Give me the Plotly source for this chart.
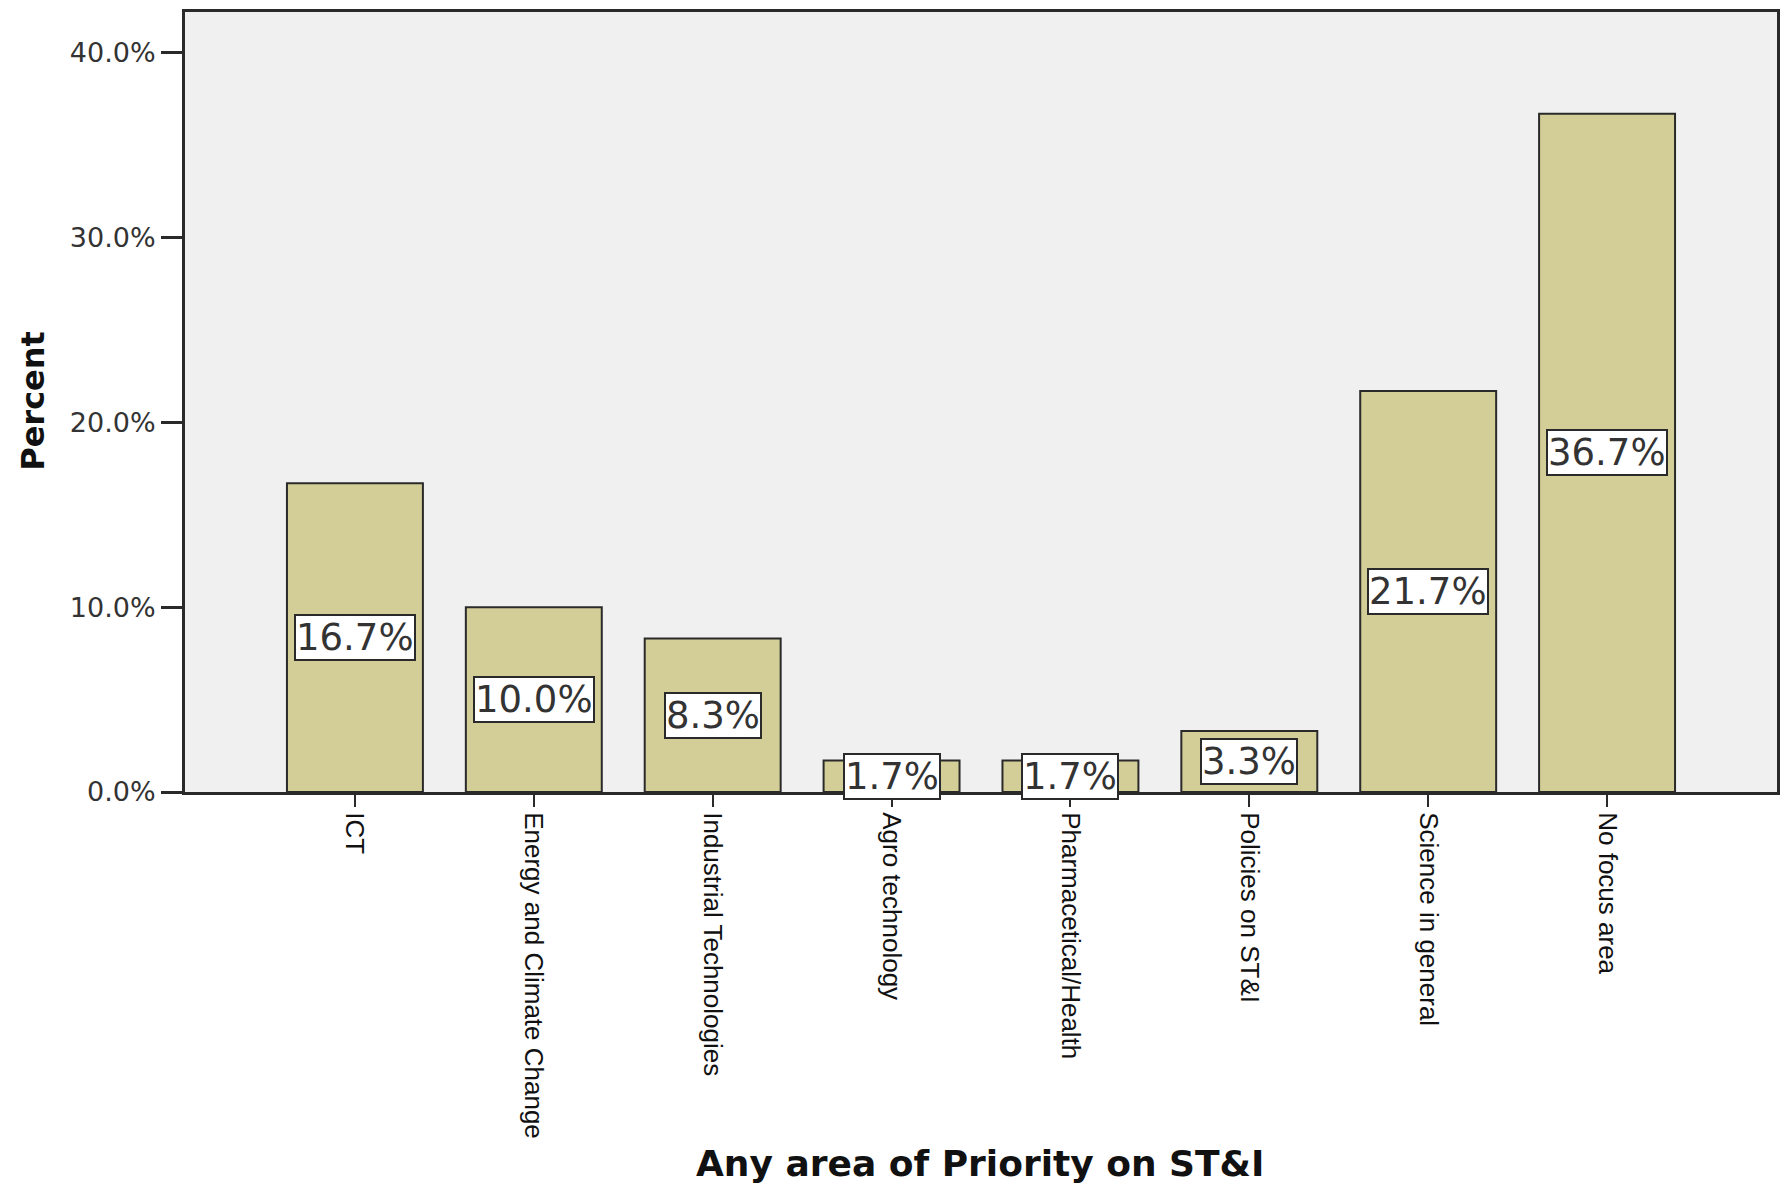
import plotly.graph_objects as go

# Survey responses: priority area on ST&I (percent of respondents)
categories = [
    "ICT",
    "Energy and Climate Change",
    "Industrial Technologies",
    "Agro technology",
    "Pharmacetical/Health",
    "Policies on ST&I",
    "Science in general",
    "No focus area",
]
percent = [16.7, 10.0, 8.3, 1.7, 1.7, 3.3, 21.7, 36.7]
y_ticks = [0, 10, 20, 30, 40]

x_pos = list(range(len(categories)))

W, H = 1789, 1192
L, R, T, B = 185, 9, 11, 400


def px_to_paper(px_x, px_y):
    """Pixel position on the page -> paper coordinates of the plot area."""
    return (px_x - L) / (W - L - R), 1 - (px_y - T) / (H - T - B)


fig = go.Figure()
fig.add_trace(go.Bar(
    x=x_pos,
    y=percent,
    width=0.76,
    marker=dict(color="#D3CE97", line=dict(color="#2a2a2a", width=2)),
    hoverinfo="skip",
))

# Boxed value labels in the middle of each bar
for xi, v in zip(x_pos, percent):
    fig.add_annotation(
        x=xi, y=v / 2, xref="x", yref="y",
        text=f"{v:.1f}%",
        showarrow=False,
        font=dict(family="DejaVu Sans", size=37, color="#333333"),
        bgcolor="white",
        bordercolor="#2a2a2a",
        borderwidth=2,
        borderpad=0,
    )

# Axis titles
tx, ty = px_to_paper(32, 400)
fig.add_annotation(
    x=tx, y=ty, xref="paper", yref="paper",
    xanchor="center", yanchor="middle",
    text="<b>Percent</b>", textangle=-90, showarrow=False,
    font=dict(family="DejaVu Sans", size=32, color="#111111"),
)
tx, ty = px_to_paper(981, 1164)
fig.add_annotation(
    x=tx, y=ty, xref="paper", yref="paper",
    xanchor="center", yanchor="middle",
    text="<b>Any area of Priority on ST&amp;I</b>", showarrow=False,
    font=dict(family="DejaVu Sans", size=36, color="#111111"),
)

fig.update_layout(
    width=W, height=H,
    margin=dict(l=L, r=R, t=T, b=B),
    paper_bgcolor="white",
    plot_bgcolor="#F0F0F0",
    showlegend=False,
)
fig.update_xaxes(
    range=[-0.95, 7.95],
    tickmode="array",
    tickvals=x_pos,
    ticktext=categories,
    tickangle=90,
    ticks="outside", ticklen=12, tickwidth=2, tickcolor="#2a2a2a",
    tickfont=dict(family="Liberation Sans", size=26, color="#111111"),
    showline=True, linecolor="#2a2a2a", linewidth=3, mirror=True,
    showgrid=False, zeroline=False,
)
fig.update_yaxes(
    range=[0, 42.2],
    tickmode="array",
    tickvals=y_ticks,
    ticktext=[f"{t:.1f}%" for t in y_ticks],
    ticks="outside", ticklen=21, tickwidth=3, tickcolor="#2a2a2a",
    tickfont=dict(family="DejaVu Sans", size=27, color="#333333"),
    showline=True, linecolor="#2a2a2a", linewidth=3, mirror=True,
    showgrid=False, zeroline=False,
)

fig.write_html("out.html")
